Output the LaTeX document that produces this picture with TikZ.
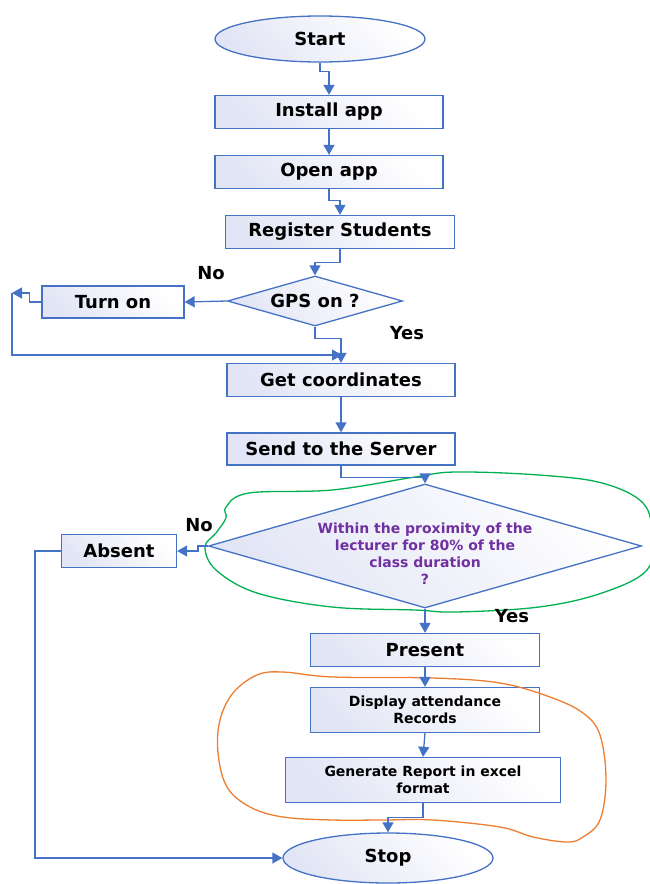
\documentclass[tikz,border=0pt]{standalone}
\usepackage{fontspec}
\setmainfont{DejaVu Sans}
\usetikzlibrary{shapes.geometric,arrows.meta}
\definecolor{lineblue}{RGB}{68,114,196}
\definecolor{boxfill}{RGB}{226,229,245}
\definecolor{txtpurple}{RGB}{112,48,160}
\definecolor{blobgreen}{RGB}{0,176,80}
\definecolor{bloborange}{RGB}{237,125,49}
\tikzset{
  base/.style={draw=lineblue, line width=1.3pt, top color=boxfill, bottom color=white, shading angle=135,
    inner sep=0pt, font=\fontsize{18}{21}\selectfont\bfseries, align=center},
  box/.style={base, rectangle, minimum width=#1},
  smallbox/.style={box=#1, font=\fontsize{14}{17}\selectfont\bfseries, minimum height=45pt},
  term/.style={base, ellipse, minimum width=210pt, minimum height=46pt},
  decision/.style={base, diamond},
  conn/.style={draw=lineblue, line width=1.3pt, -{Triangle[length=10pt,width=11pt]}},
  lbl/.style={font=\fontsize{18}{21}\selectfont\bfseries, inner sep=0pt},
  blob/.style={line width=1.3pt}
}
\begin{document}
\begin{tikzpicture}[x=1pt,y=-1pt]
\useasboundingbox (0,0) rectangle (650,884);
% blobs
\draw[blob, blobgreen] plot[smooth cycle, tension=0.6] coordinates {
 (226,507) (249,493) (332,490) (415,477) (456,472) (539,475) (602,483) (643,503)
 (652,535) (647,570) (602,593) (539,607) (456,612) (415,610) (332,607) (257,593)
 (216,570) (205,547) (216,533) (226,518)};
% nodes
\node[term] (start) at (320,39) {Start};
\node[box=228pt, minimum height=33pt] (install) at (329,112) {Install app};
\node[box=228pt, minimum height=33pt] (open) at (329,172) {Open app};
\node[box=229pt, minimum height=33pt] (register) at (340,232) {Register Students};
\node[decision, minimum width=175pt, minimum height=50pt,
  label={[font=\fontsize{18}{21}\selectfont\bfseries]center:GPS on ?}] (gps) at (315,301) {};
\node[box=142pt, minimum height=32pt] (turnon) at (113,302) {Turn on};
\node[box=228pt, minimum height=33pt] (getc) at (341,380) {Get coordinates};
\node[box=228pt, minimum height=32pt] (send) at (341,449) {Send to the Server};
\node[decision, minimum width=433pt, minimum height=124pt,
  label={[yshift=-8pt, font=\fontsize{14}{17}\selectfont\bfseries, text=txtpurple, align=center]center:Within the proximity of the\\lecturer for 80\% of the\\class duration\\?}] (dec) at (425,546) {};
\node[box=115pt, minimum height=33pt] (absent) at (119,551) {Absent};
\node[box=229pt, minimum height=33pt] (present) at (425,650) {Present};
\node[smallbox=229pt] (display) at (425,710) {Display attendance\\Records};
\node[smallbox=275pt] (gen) at (423,780) {Generate Report in excel\\format};
\node[term, minimum width=210pt, minimum height=50pt] (stop) at (388,858) {Stop};
\draw[blob, bloborange] plot[smooth cycle, tension=0.6] coordinates {
 (283,672) (333,677) (433,678) (500,683) (550,697) (583,713) (600,735) (606,780)
 (600,820) (583,837) (567,842) (533,837) (500,827) (433,820) (383,820) (333,820)
 (283,817) (250,807) (227,787) (218,753) (220,720) (233,693) (257,675)};
% coordinates
\coordinate (c1) at (12,293);
\coordinate (c2) at (342,355);
% connectors
\draw[conn] (start.south) -- ++(0,9) -| (install.north);
\draw[conn] (install) -- (open);
\draw[conn] (open.south) -- ++(0,11) -| (register.north);
\draw[conn] (register.south) -- ++(0,13) -| (gps.north);
\draw[conn] (gps.west) -- (turnon.east);
\draw[conn] (turnon.west) -- ++(-12,0) -- ++(0,-9) -- (c1);
\draw[conn] (c1) |- (c2);
\draw[conn] (gps.south) -- ++(0,12) -| (getc.north);
\draw[conn] (getc) -- (send);
\draw[conn] (send.south) -- ++(0,12) -| (dec.north);
\draw[conn] (dec.west) -- ++(-10,0) |- (absent.east);
\draw[conn] (dec.south) -- (present.north);
\draw[conn] (present) -- (display);
\draw[conn] (display.south) -- (gen.north);
\draw[conn] (gen.south) -- ++(0,14) -| (stop.north);
\draw[conn] (absent.west) -- ++(-26,0) |- (stop.west);
% labels
\node[lbl] (no1) at (211,273) {No};
\node[lbl] (yes1) at (407,333) {Yes};
\node[lbl] (no2) at (199,525) {No};
\node[lbl] (yes2) at (512,616) {Yes};
\end{tikzpicture}
\end{document}
